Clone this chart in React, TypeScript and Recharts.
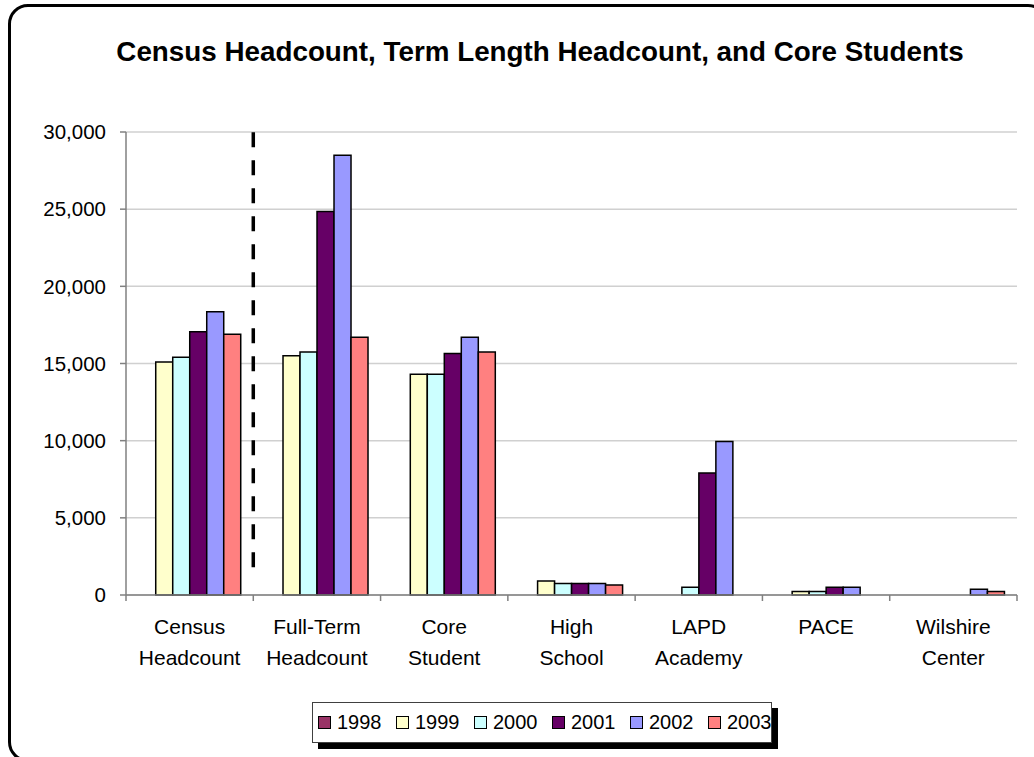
import React from 'react';
import { BarChart, Bar, XAxis, YAxis, CartesianGrid, ReferenceLine } from 'recharts';

const categories = [
  'Census Headcount',
  'Full-Term Headcount',
  'Core Student',
  'High School',
  'LAPD Academy',
  'PACE',
  'Wilshire Center',
];

const y1998: (number | null)[] = [null, null, null, null, null, null, null];
const y1999: (number | null)[] = [15100, 15500, 14300, 900, null, 220, null];
const y2000: (number | null)[] = [15400, 15750, 14300, 750, 500, 230, null];
const y2001: (number | null)[] = [17050, 24850, 15650, 750, 7900, 500, null];
const y2002: (number | null)[] = [18350, 28500, 16700, 750, 9950, 500, 380];
const y2003: (number | null)[] = [16900, 16700, 15750, 650, null, null, 230];

const yTicks = [0, 5000, 10000, 15000, 20000, 25000, 30000];

const series = [
  { key: '1998', values: y1998, color: '#993366' },
  { key: '1999', values: y1999, color: '#FFFFCC' },
  { key: '2000', values: y2000, color: '#CCFFFF' },
  { key: '2001', values: y2001, color: '#660066' },
  { key: '2002', values: y2002, color: '#9999FF' },
  { key: '2003', values: y2003, color: '#FF8080' },
];

const chartData = categories.map((name, i) => {
  const row: Record<string, string | number | null> = { name };
  series.forEach(s => {
    row[s.key] = s.values[i];
  });
  return row;
});

const FONT = '"Liberation Sans", Arial, sans-serif';

const CHART_W = 1034;
const CHART_H = 757;
const MARGIN = { top: 132, right: 17, bottom: 82, left: 0 };
const Y_AXIS_W = 126;
const HALF_BAND = (CHART_W - MARGIN.right - MARGIN.left - Y_AXIS_W) / categories.length / 2;

// category labels on two lines, tick marks between the groups
const CategoryTick = (props: any) => {
  const { x, y, payload, index } = props;
  const words: string[] = String(payload.value).split(' ');
  const axisY = y - 8;
  return (
    <g>
      <line x1={x - HALF_BAND} y1={axisY} x2={x - HALF_BAND} y2={axisY + 6} stroke="#808080" strokeWidth={1.5} />
      {index === categories.length - 1 && (
        <line x1={x + HALF_BAND} y1={axisY} x2={x + HALF_BAND} y2={axisY + 6} stroke="#808080" strokeWidth={1.5} />
      )}
      <text x={x} y={y} textAnchor="middle" fontFamily={FONT} fontSize={21} fill="#000">
        {words.map((w, i) => (
          <tspan key={i} x={x} dy={31}>
            {w}
          </tspan>
        ))}
      </text>
    </g>
  );
};

const App: React.FC = () => {
  return (
    <div
      style={{
        position: 'fixed',
        left: 0,
        top: 0,
        width: 1034,
        height: 757,
        overflow: 'hidden',
        background: '#fff',
        fontFamily: FONT,
      }}
    >
      <div
        style={{
          position: 'absolute',
          left: 8,
          top: 4,
          width: 1040,
          height: 758,
          border: '3px solid #000',
          borderRadius: 20,
          boxSizing: 'border-box',
        }}
      />
      <div
        style={{
          position: 'absolute',
          left: 0,
          top: 36,
          width: 1080,
          textAlign: 'center',
          fontWeight: 'bold',
          fontSize: 27.8,
          color: '#000',
        }}
      >
        Census Headcount, Term Length Headcount, and Core Students
      </div>

      <div style={{ position: 'absolute', left: 0, top: 0 }}>
        <BarChart
          width={CHART_W}
          height={CHART_H}
          data={chartData}
          margin={MARGIN}
          barCategoryGap="10%"
          barGap={0}
        >
          <CartesianGrid vertical={false} stroke="#d0d0d0" strokeWidth={1.5} />
          <XAxis
            dataKey="name"
            height={80}
            tickLine={false}
            axisLine={{ stroke: '#808080', strokeWidth: 1.5 }}
            tick={<CategoryTick />}
            interval={0}
          />
          <YAxis
            width={Y_AXIS_W}
            domain={[0, 30000]}
            ticks={yTicks}
            interval={0}
            tickFormatter={(v: number) => v.toLocaleString('en-US')}
            axisLine={{ stroke: '#808080', strokeWidth: 1.5 }}
            tickLine={{ stroke: '#808080', strokeWidth: 1.5 }}
            tickSize={6}
            tickMargin={14}
            tick={{ fill: '#000', fontSize: 20.5, fontFamily: FONT }}
          />
          {series.map(s => (
            <Bar
              key={s.key}
              dataKey={s.key}
              fill={s.color}
              stroke="#000"
              strokeWidth={1.5}
              isAnimationActive={false}
            />
          ))}
          <ReferenceLine
            segment={[
              { x: categories[0], y: 1800 },
              { x: categories[0], y: 30000 },
            ]}
            position="end"
            stroke="#000"
            strokeWidth={3.5}
            strokeDasharray="15 13"
            ifOverflow="visible"
          />
        </BarChart>
      </div>

      <div
        style={{
          position: 'absolute',
          left: 312,
          top: 702,
          width: 460,
          height: 41,
          border: '1px solid #404040',
          boxShadow: '6px 6px 0 #000',
          background: '#fff',
          boxSizing: 'border-box',
          display: 'flex',
          alignItems: 'center',
          paddingLeft: 5,
          whiteSpace: 'nowrap',
        }}
      >
        {series.map(s => (
          <div key={s.key} style={{ display: 'flex', alignItems: 'center', width: 78, flexShrink: 0 }}>
            <span
              style={{
                display: 'inline-block',
                width: 13,
                height: 13,
                background: s.color,
                border: '1.5px solid #000',
                boxSizing: 'border-box',
                marginRight: 6,
              }}
            />
            <span style={{ fontSize: 20, color: '#000' }}>{s.key}</span>
          </div>
        ))}
      </div>
    </div>
  );
};

export default App;
